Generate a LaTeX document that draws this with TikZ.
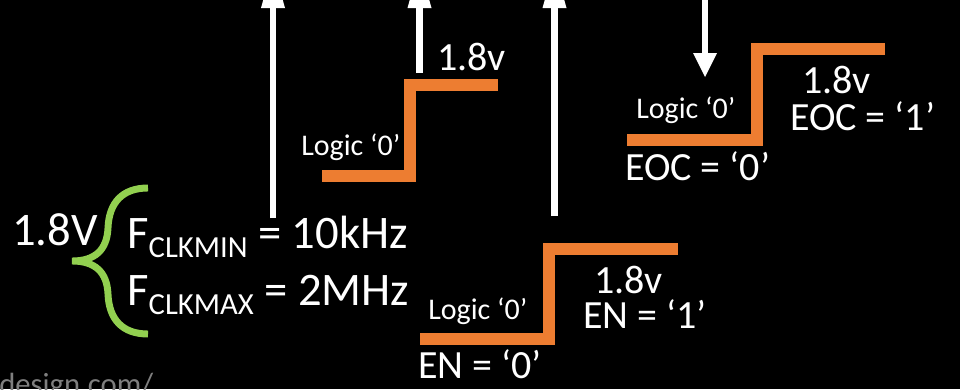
\documentclass[tikz,border=0pt]{standalone}
\usepackage{fontspec}
\setmainfont{Carlito}
\definecolor{orng}{HTML}{ED7D31}
\definecolor{grn}{HTML}{92D050}
\definecolor{urlgray}{HTML}{7F7F7F}
\begin{document}
\begin{tikzpicture}[x=0.75pt,y=-0.75pt,
  lbl/.style={text=white,inner sep=0pt,anchor=base west,font=\fontsize{30}{36}\selectfont},
  smalllbl/.style={lbl,font=\fontsize{22.5}{27}\selectfont},
  biglbl/.style={lbl,font=\fontsize{35}{42}\selectfont},
  stepline/.style={draw=orng,line width=9pt,line join=miter},
  shaft/.style={draw=white,line width=5.2pt},
  head/.style={fill=white,draw=none}]
\useasboundingbox (0,0) rectangle (960,389);
\clip (0,0) rectangle (960,389);
\fill[black] (0,0) rectangle (960,389);
% up arrows
\draw[shaft] (273,218) -- (273,5);
\fill[head] (261,8) -- (285,8) -- (273,-35) -- cycle;
\draw[shaft] (419.5,73) -- (419.5,5);
\fill[head] (407.5,8) -- (431.5,8) -- (419.5,-35) -- cycle;
\draw[shaft] (554.5,216) -- (554.5,5);
\fill[head] (542.5,8) -- (566.5,8) -- (554.5,-35) -- cycle;
% down arrow
\draw[shaft] (705,0) -- (705,55);
\fill[head] (693,53) -- (717,53) -- (705,77) -- cycle;
% steps
\draw[stepline] (322,175.5) -- (410,175.5) -- (410,85) -- (498,85);
\draw[stepline] (627,140) -- (756.5,140) -- (756.5,49) -- (885,49);
\draw[stepline] (420,339) -- (549,339) -- (549,248.5) -- (678,248.5);
% brace
\draw[grn,line width=5.2pt] (148,188) .. controls (122,188) and (109,203) .. (108,228)
  .. controls (107,250) and (95,261) .. (72,261)
  .. controls (95,261) and (107,272) .. (108,294)
  .. controls (109,319) and (122,334) .. (148,334);
% texts
\node[lbl] (v1) at (437,70) {1.8v};
\node[smalllbl] (l1) at (301,155) {Logic ‘0’};
\node[smalllbl] (l2) at (636,118) {Logic ‘0’};
\node[lbl] (v2) at (802,93) {1.8v};
\node[lbl] (eoc1) at (790,130) {EOC = ‘1’};
\node[lbl] (eoc0) at (625,180) {EOC = ‘0’};
\node[smalllbl] (l3) at (428,319) {Logic ‘0’};
\node[lbl] (v3) at (594,293) {1.8v};
\node[lbl] (en1) at (583,328) {EN = ‘1’};
\node[lbl] (en0) at (418,378) {EN = ‘0’};
\node[biglbl] (v18) at (12,245) {1.8V};
\node[biglbl] (fmin) at (127,248) {F\raisebox{-6.75pt}{\fontsize{23}{28}\selectfont CLKMIN} = 10kHz};
\node[biglbl] (fmax) at (127,305) {F\raisebox{-6.75pt}{\fontsize{23}{28}\selectfont CLKMAX} = 2MHz};
\node[lbl,text=urlgray,font=\fontsize{23}{28}\selectfont] (url) at (-1,394) {design.com/};
\end{tikzpicture}
\end{document}
